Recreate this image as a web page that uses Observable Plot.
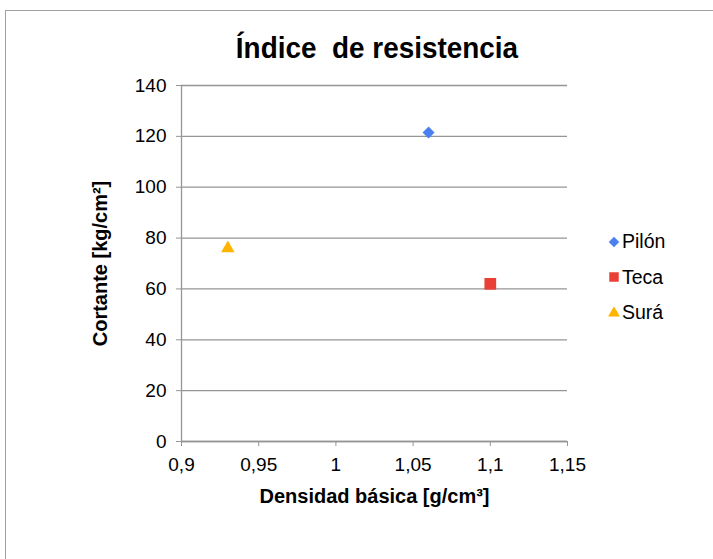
<!DOCTYPE html>
<html><head><meta charset="utf-8">
<script src="https://cdn.jsdelivr.net/npm/d3@7"></script>
<script src="https://cdn.jsdelivr.net/npm/@observablehq/plot@0.6"></script>
<style>
body{margin:0;background:#fff;font-family:"Liberation Sans",Arial,sans-serif;}
#wrap{position:relative;width:713px;height:559px;overflow:hidden;}
#frame{position:absolute;left:5px;top:10px;width:760px;height:600px;border:1.5px solid #a0a0a0;box-sizing:border-box;}
#title{position:absolute;left:0;width:754px;top:31px;text-align:center;font-weight:bold;font-size:30px;transform:scaleX(0.93);transform-origin:377px 0;white-space:pre;}
#legend{position:absolute;left:608px;top:224px;font-size:19.5px;}
.li{height:35.5px;display:flex;align-items:center;}
.li svg{margin-right:2px;}
#plot{position:absolute;left:0;top:0;}
</style></head>
<body><div id="wrap"><div id="frame"></div><div id="plot"></div><div id="title">Índice  de resistencia</div><div id="legend"></div></div>
<script>
const species = ["Pilón", "Teca", "Surá"];
const density = [1.06, 1.10, 0.93];
const shear = [121.5, 62, 76];
const colors = ["#4a7ff0", "#ea3f35", "#ffb400"];
const xTicks = [0.9, 0.95, 1, 1.05, 1.1, 1.15];
const yTicks = [0, 20, 40, 60, 80, 100, 120, 140];

const symbolNames = ["diamond2", "square", "triangle"];
const radii = [5.4, 6.6, 5.0];
const data = species.map((s, i) => ({s, x: density[i], y: shear[i], c: colors[i], sym: symbolNames[i], r: radii[i]}));
const fmt = d => String(d).replace(".", ",");

const chart = Plot.plot({
  width: 713, height: 559,
  marginLeft: 181, marginRight: 146, marginTop: 85, marginBottom: 118,
  style: {fontFamily: '"Liberation Sans", Arial, sans-serif', fontSize: "19px", color: "#000", background: "transparent"},
  x: {domain: [0.9, 1.15], ticks: xTicks, tickFormat: fmt},
  y: {domain: [0, 140], ticks: yTicks},
  symbol: {type: "identity"},
  r: {type: "identity"},
  marks: [
    Plot.gridY(yTicks, {stroke: "#959595", strokeOpacity: 1, strokeWidth: 1.3}),
    Plot.ruleY([0], {stroke: "#959595", strokeWidth: 1.3}),
    Plot.ruleX([0.9], {stroke: "#959595", strokeWidth: 1.3}),
    Plot.axisX(xTicks, {tickSize: 5, tickPadding: 11, stroke: "#959595", fill: "#000", fontSize: 19, label: null, tickFormat: fmt}),
    Plot.axisY(yTicks, {tickSize: 5, tickPadding: 10, stroke: "#959595", fill: "#000", fontSize: 19, label: null}),
    Plot.text(["Densidad básica [g/cm³]"], {frameAnchor: "bottom", dy: 61, textAnchor: "middle", fontWeight: "bold", fontSize: 20, fill: "#000"}),
    Plot.text(["Cortante [kg/cm²]"], {frameAnchor: "left", dx: -81, rotate: -90, textAnchor: "middle", fontWeight: "bold", fontSize: 20, fill: "#000"}),
    Plot.dot(data, {x: "x", y: "y", symbol: "sym", fill: "c", r: "r"})
  ]
});
document.getElementById("plot").appendChild(chart);

const legendSymbols = [d3.symbolDiamond2, d3.symbolSquare, d3.symbolTriangle];
const legendSizes = [70, 90, 60];
const leg = document.getElementById("legend");
species.forEach((s, i) => {
  const d = document.createElement("div");
  d.className = "li";
  const path = d3.symbol(legendSymbols[i], legendSizes[i])();
  d.innerHTML = `<svg width="12" height="12" viewBox="-6 -6 12 12"><path d="${path}" fill="${colors[i]}"/></svg><span>${s}</span>`;
  leg.appendChild(d);
});
</script></body></html>
